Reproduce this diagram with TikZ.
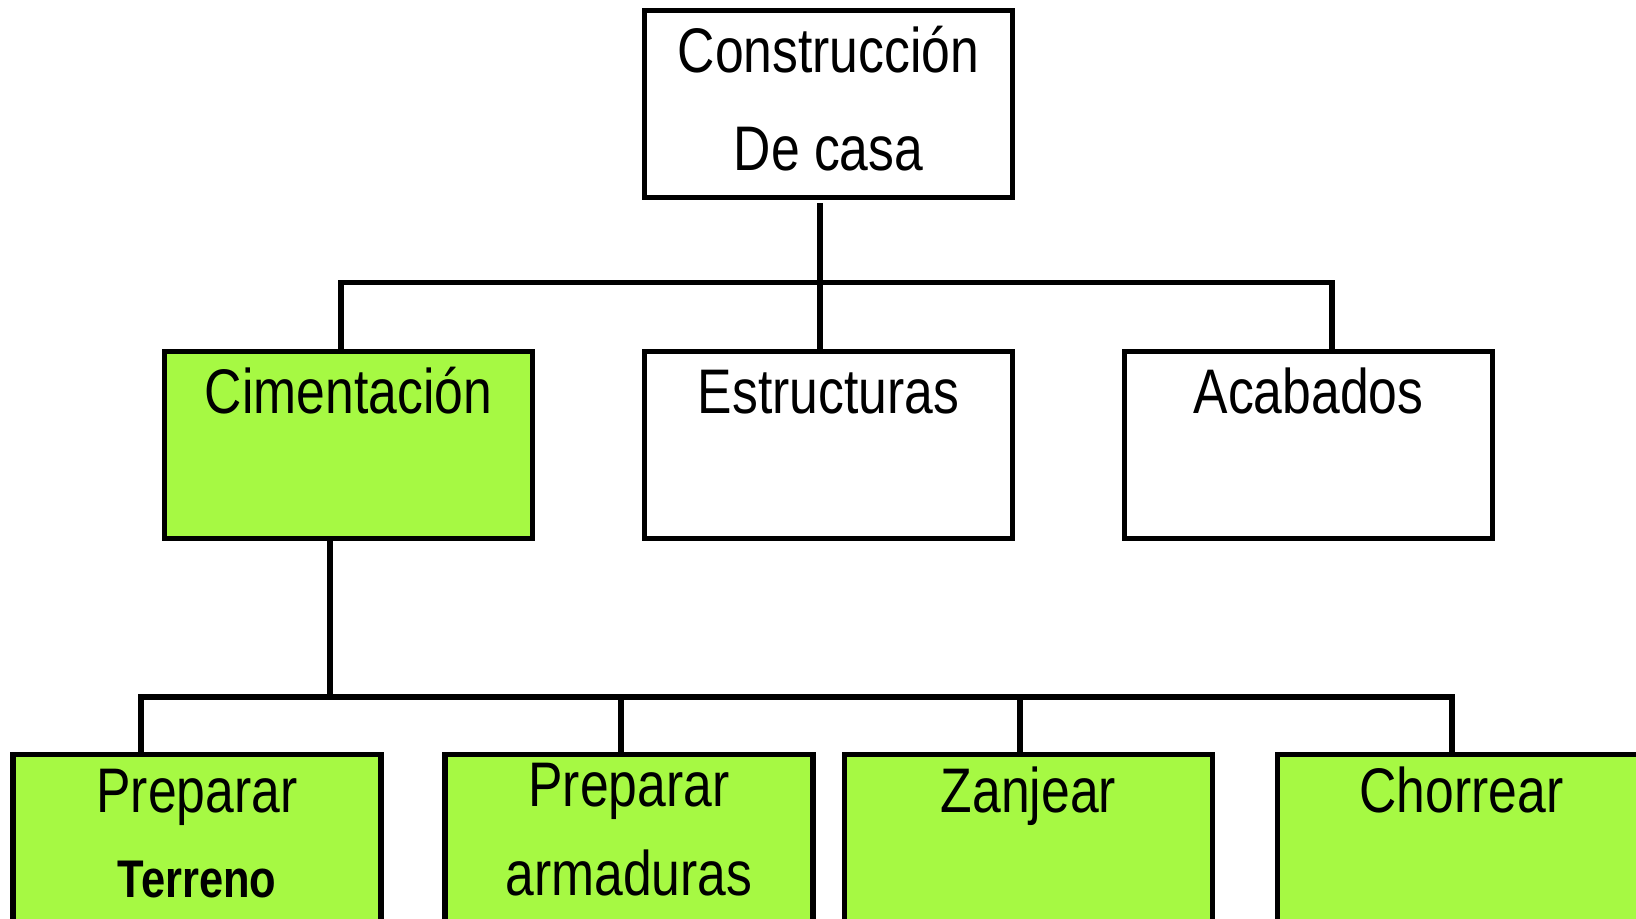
\documentclass[tikz,border=0pt]{standalone}
\usepackage{fontspec}
\setmainfont{Liberation Sans}[FakeStretch=0.82]
\definecolor{leafgreen}{RGB}{166,249,67}

\begin{document}
\begin{tikzpicture}[
    x=0.5pt, y=-0.5pt,
    line width=2.75pt,
    wbsnode/.style={rectangle, draw, line width=2.75pt, anchor=north, align=center,
        minimum width=184pt, minimum height=93.5pt, inner sep=0pt, outer sep=0pt,
        text height=30.75pt, text depth=62.75pt,
        font=\fontsize{31.5}{49}\selectfont},
    task/.style={wbsnode, fill=leafgreen},
    subtask/.style={task, text height=28.75pt, text depth=64.75pt}
]
\useasboundingbox (0,0) rectangle (1636,918);

% Root node
\node[wbsnode, text height=79.75pt, text depth=13.75pt] (casa) at (828.5,10.5) {Construcción\\De casa};

% First level
\node[task] (cim) at (348.5,351.5) {Cimentación};
\node[wbsnode] (est) at (828.5,351.5) {Estructuras};
\node[wbsnode] (acab) at (1308.5,351.5) {Acabados};

% Second level (cimentacion)
\node[subtask, text height=71.25pt, text depth=22.25pt] (terreno) at (197,754.5)
    {Preparar\\[-6.5pt]{\fontsize{26.5}{30}\selectfont\bfseries Terreno}};
\node[subtask, text height=70.25pt, text depth=23.25pt] (arm) at (629,754.5)
    {Preparar\\[-4.5pt]armaduras};
\node[subtask] (zanja) at (1028.5,754.5) {Zanjear};
\node[subtask] (chorreo) at (1461.5,754.5) {Chorrear};

% Bus junctions
\coordinate (top) at (820,282.5);
\coordinate (topL) at (341,282.5);
\coordinate (topR) at (1332,282.5);
\coordinate (low) at (330,697);
\coordinate (low1) at (141,697);
\coordinate (low2) at (621,697);
\coordinate (low3) at (1020,697);
\coordinate (low4) at (1452,697);

% Edges
\draw[shorten <=2.75pt] (casa.south -| top) -- (est.north -| top);
\draw (cim.north -| topL) -- (topL) -- (topR) -- (acab.north -| topR);
\draw (cim.south -| low) -- (low);
\draw (terreno.north -| low1) -- (low1) -- (low4) -- (chorreo.north -| low4);
\draw (low2) -- (arm.north -| low2);
\draw (low3) -- (zanja.north -| low3);

\end{tikzpicture}
\end{document}
